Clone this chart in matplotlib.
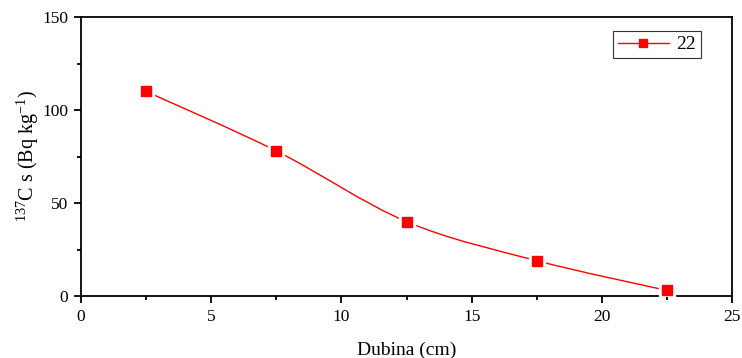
import numpy as np
import matplotlib
matplotlib.use('Agg')
import matplotlib.pyplot as plt
from matplotlib.path import Path
from matplotlib.patches import PathPatch
from matplotlib.lines import Line2D

plt.rcParams['font.family'] = ['Liberation Serif', 'DejaVu Serif']
plt.rcParams['mathtext.fontset'] = 'custom'
plt.rcParams['mathtext.rm'] = 'Liberation Serif'
plt.rcParams['mathtext.it'] = 'Liberation Serif:italic'

# data
depth = [2.5, 7.5, 12.5, 17.5, 22.5]
cs137 = [110, 78, 40, 19, 3]
series_name = '22'

x_ticks = [0, 5, 10, 15, 20, 25]
y_ticks = [0, 50, 100, 150]

red = '#ff0000'

fig = plt.figure(figsize=(7.42, 3.58), dpi=100)
ax = fig.add_axes([0.109, 0.173, 0.878, 0.7795])

# smooth connector through the points (catmull-rom -> bezier, drawn by matplotlib)
pts = np.column_stack([depth, cs137]).astype(float)
verts = [tuple(pts[0])]
codes = [Path.MOVETO]
for i in range(len(pts) - 1):
    p0 = pts[i - 1] if i > 0 else pts[i]
    p1 = pts[i]
    p2 = pts[i + 1]
    p3 = pts[i + 2] if i + 2 < len(pts) else pts[i + 1]
    c1 = p1 + (p2 - p0) / 6.0
    c2 = p2 - (p3 - p1) / 6.0
    verts += [tuple(c1), tuple(c2), tuple(p2)]
    codes += [Path.CURVE4] * 3
ax.add_patch(PathPatch(Path(verts, codes), fill=False, edgecolor=red, lw=1.0, zorder=2))

# white squares make the gaps around the markers, then the red ones
ax.plot(depth, cs137, ls='none', marker='s', ms=12, mfc='white', mec='white', zorder=3)
ax.plot(depth, cs137, ls='none', marker='s', ms=6.5, mfc=red, mec=red, zorder=4)

ax.set_xlim(0, 25)
ax.set_ylim(0, 150)
ax.set_xticks(x_ticks)
ax.set_yticks(y_ticks)
ax.set_xticks([2.5, 7.5, 12.5, 17.5, 22.5], minor=True)
ax.set_yticks([25, 75, 125], minor=True)
ax.tick_params(which='major', direction='out', length=5, width=1.3, labelsize=12.5, pad=4)
ax.tick_params(which='minor', direction='out', length=3, width=1.3)
for s in ax.spines.values():
    s.set_linewidth(1.3)

ax.set_xlabel('Dubina (cm)', fontsize=14, labelpad=12)
ax.set_ylabel(r'$^{137}$C s (Bq kg$^{-1}$)', fontsize=14.5, labelpad=1)

handle = Line2D([], [], color=red, lw=1.0, marker='s', ms=6, mfc=red, mec=red)
leg = ax.legend([handle], [series_name], loc='upper right', bbox_to_anchor=(0.952, 0.95),
                borderaxespad=0, fancybox=False, edgecolor='#333333', fontsize=14,
                handlelength=2.6, handletextpad=0.4, borderpad=0.25, framealpha=1)
leg.get_frame().set_linewidth(0.8)

fig.savefig('out.png', dpi=100)
